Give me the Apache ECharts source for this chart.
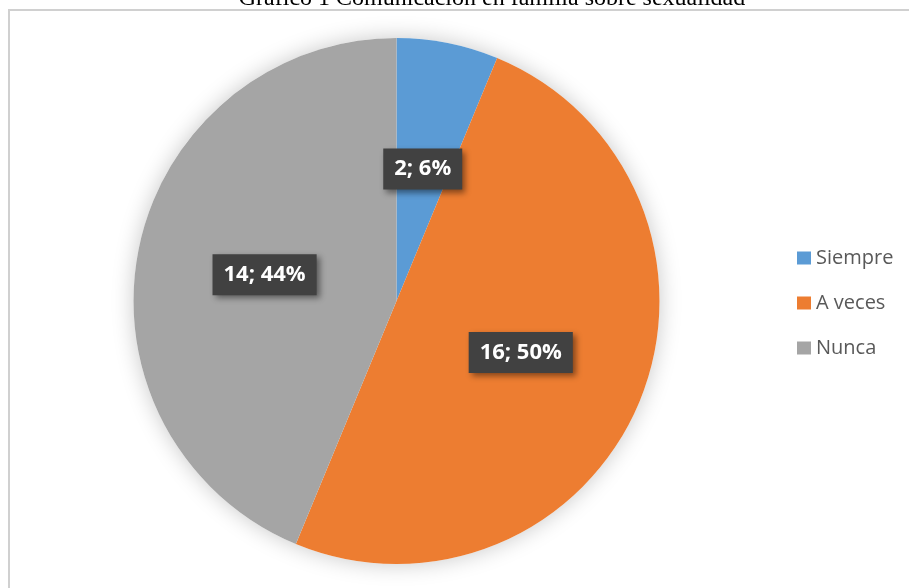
<!DOCTYPE html>
<html>
<head>
<meta charset="utf-8">
<script src="https://cdn.jsdelivr.net/npm/echarts@6/dist/echarts.min.js"></script>
<style>
html,body{margin:0;padding:0;background:#fff;}
#chart{width:909px;height:588px;}
</style>
</head>
<body>
<div id="chart"></div>
<script>
const titleText = 'Gráfico 1 Comunicación en familia sobre sexualidad';
const categories = ['Siempre', 'A veces', 'Nunca'];
const values = [2, 16, 14];
const sliceColors = ['#5B9BD5', '#ED7D31', '#A5A5A5'];

const chart = echarts.init(document.getElementById('chart'), null, {renderer: 'canvas'});

const pieData = categories.map((c, i) => ({
  name: c,
  value: values[i],
  itemStyle: {color: sliceColors[i]}
}));
const total = values.reduce((a, b) => a + b, 0);

const option = {
  backgroundColor: '#ffffff',
  animation: false,
  graphic: [
    {
      type: 'rect',
      silent: true,
      shape: {x: 9, y: 10, width: 1200, height: 1200},
      style: {fill: 'none', stroke: '#d0d0d0', lineWidth: 2},
      z: 0
    },
    {
      type: 'text',
      silent: true,
      x: 492,
      y: -1,
      style: {
        text: titleText,
        font: '24px "Liberation Serif", "Times New Roman", serif',
        fill: '#000000',
        align: 'center',
        verticalAlign: 'middle'
      },
      z: 10
    }
  ],
  legend: {
    data: categories,
    orient: 'vertical',
    left: 792,
    top: 243,
    itemWidth: 14,
    itemHeight: 13,
    itemGap: 25,
    icon: 'rect',
    selectedMode: false,
    textStyle: {
      fontFamily: '"Open Sans", sans-serif',
      fontSize: 20,
      color: '#595959',
      lineHeight: 20
    }
  },
  series: [
    {
      type: 'pie',
      silent: true,
      center: [396.5, 301],
      radius: 263,
      z: 1,
      label: {show: false},
      labelLine: {show: false},
      itemStyle: {
        color: '#ffffff',
        shadowBlur: 22,
        shadowColor: 'rgba(0,0,0,0.22)'
      },
      data: [{name: '_bg', value: 1}]
    },
    {
      type: 'pie',
      center: [396.5, 301],
      radius: 263,
      startAngle: 90,
      clockwise: true,
      z: 2,
      itemStyle: {borderWidth: 0},
      labelLine: {show: false},
      label: {
        show: true,
        position: 'inside',
        formatter: p => p.value + '; ' + Math.round(p.value / total * 100) + '%',
        color: '#ffffff',
        fontFamily: '"Open Sans", sans-serif',
        fontWeight: 'bold',
        fontSize: 22,
        backgroundColor: '#414141',
        padding: [10, 11, 9, 11],
        shadowColor: 'rgba(0,0,0,0.45)',
        shadowBlur: 6,
        shadowOffsetX: 3,
        shadowOffsetY: 3
      },
      data: pieData
    }
  ]
};
chart.setOption(option);
</script>
</body>
</html>
